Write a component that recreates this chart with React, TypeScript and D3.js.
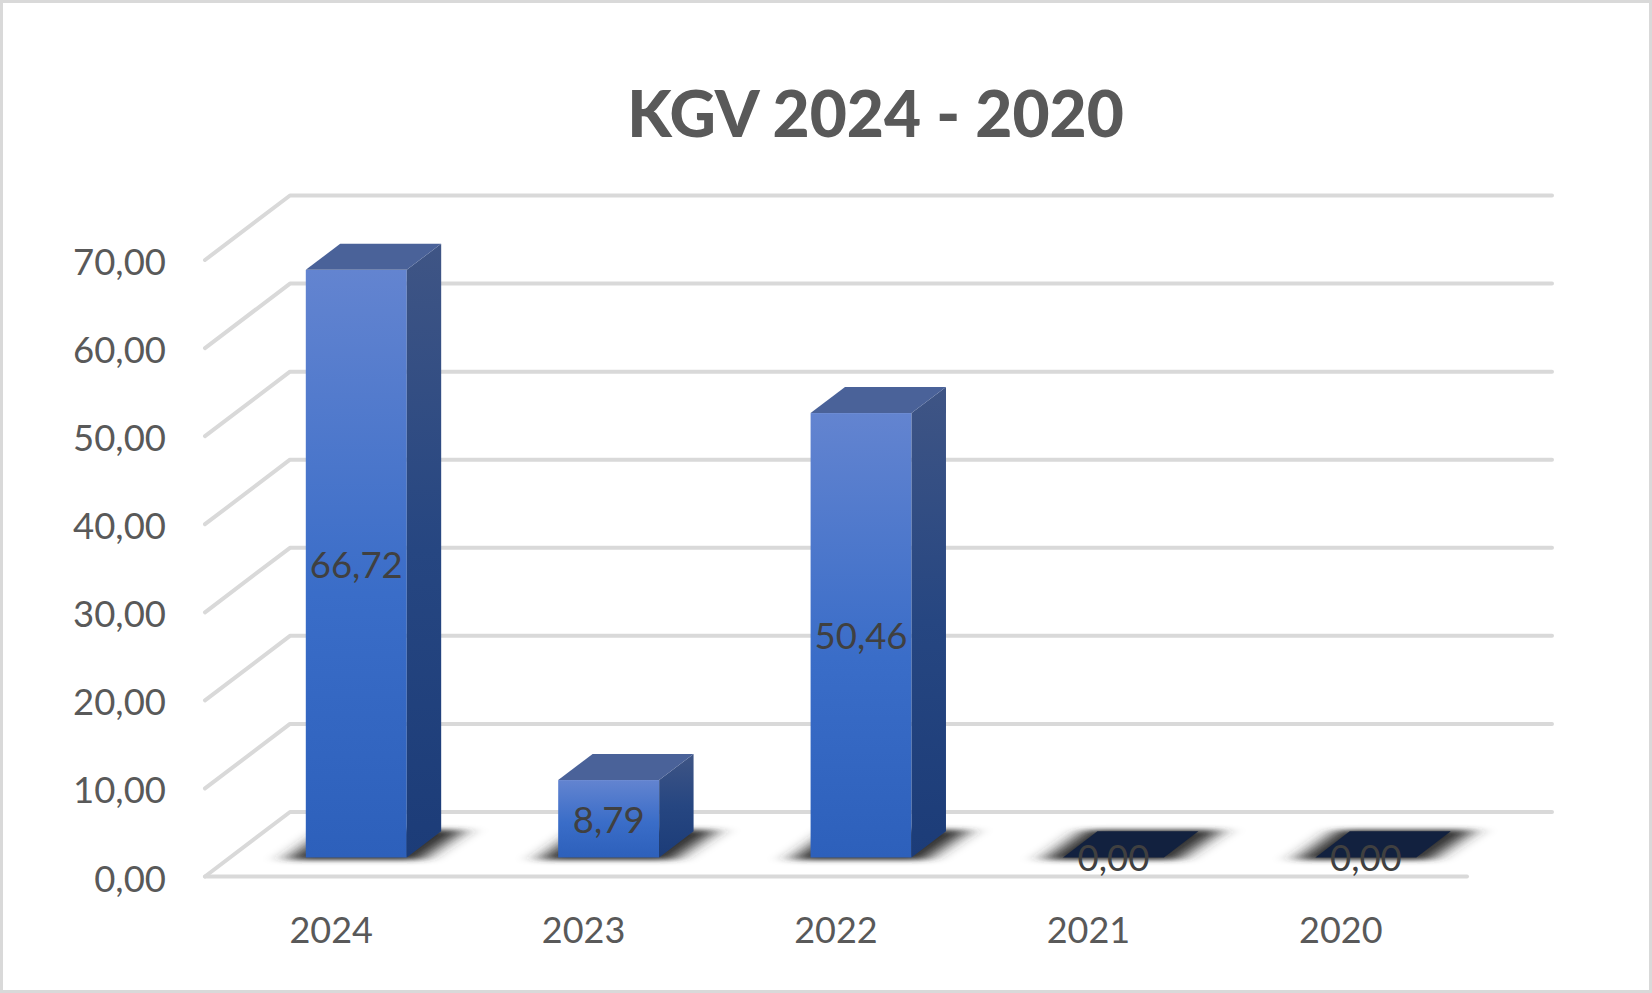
import React from "react";
import * as d3 from "d3";

const categories = ["2024", "2023", "2022", "2021", "2020"];
const values = [66.72, 8.79, 50.46, 0, 0];
const yTicks = [0, 10, 20, 30, 40, 50, 60, 70];
const titleText = "KGV 2024 - 2020";

const W = 1652;
const H = 993;
const FONT = "Lato, 'Open Sans', sans-serif";
const fmt = (v: number) => v.toFixed(2).replace(".", ",");

const frontLeft = 205;
const frontRight = 1467;
const floorY = 876.5;
const backDx = 85;
const backDy = -64.5;
const faceDepth = 0.295;
const rearDepth = 0.7;

const x = d3.scaleBand<string>().domain(categories).range([frontLeft, frontRight]).paddingInner(0.6).paddingOuter(0.3);
const xLabel = d3.scaleBand<string>().domain(categories).range([frontLeft, frontRight]);
const y = d3.scaleLinear().domain([0, 70]).range([0, -616.5]);

const proj = (px: number, v: number, depth: number): [number, number] => [
  px + backDx * depth,
  floorY + y(v) + backDy * depth,
];
const poly = (pts: [number, number][]) => d3.line()(pts)! + "Z";

export default function App() {
  return (
    <svg width={W} height={H} style={{ position: "absolute", left: 0, top: 0, background: "#fff" }}>
      <defs>
        <linearGradient id="front" x1="0" y1="0" x2="0" y2="1">
          <stop offset="0" stopColor="#6384d0" />
          <stop offset="0.55" stopColor="#3a6dc8" />
          <stop offset="1" stopColor="#2d60bb" />
        </linearGradient>
        <linearGradient id="side" x1="0" y1="0" x2="0" y2="1">
          <stop offset="0" stopColor="#3f5585" />
          <stop offset="0.5" stopColor="#264681" />
          <stop offset="1" stopColor="#1c3c78" />
        </linearGradient>
        <filter id="blur" x="-30%" y="-80%" width="160%" height="260%">
          <feGaussianBlur stdDeviation="11 2.5" />
        </filter>
      </defs>
      <rect x={1.5} y={1.5} width={W - 3} height={H - 3} fill="#fff" stroke="#d9d9d9" strokeWidth={3} />
      <text x={875.5} y={112} textAnchor="middle" dominantBaseline="central" fontFamily={FONT} fontWeight={900} fontSize={64} fill="#595959">
        {titleText}
      </text>
      <g fill="none" stroke="#d9d9d9" strokeWidth={4} strokeLinecap="round" strokeLinejoin="round">
        {yTicks.map((t) => {
          const a = proj(frontLeft, t, 0);
          const b = proj(frontLeft, t, 1);
          const c = proj(frontRight, t, 1);
          return <path key={t} d={d3.line()([a, b, c])!} />;
        })}
        <path d={d3.line()([proj(frontLeft, 0, 0), proj(frontRight, 0, 0)])!} />
      </g>
      {yTicks.map((t) => (
        <text key={t} x={166} y={proj(frontLeft, t, 0)[1] + 1} textAnchor="end" dominantBaseline="central" fontFamily={FONT} fontSize={36.5} fill="#595959">
          {fmt(t)}
        </text>
      ))}
      {categories.map((c) => (
        <text key={c} x={xLabel(c)! + xLabel.bandwidth() / 2} y={928.5} textAnchor="middle" dominantBaseline="central" fontFamily={FONT} fontSize={36} fill="#595959">
          {c}
        </text>
      ))}
      {categories.map((c, i) => {
        const l = x(c)!;
        const r = l + x.bandwidth();
        const v = values[i];
        const shadow = poly([
          [proj(l, 0, faceDepth)[0] - 20, proj(l, 0, faceDepth)[1] + 2.5],
          [proj(r, 0, faceDepth)[0] + 14, proj(r, 0, faceDepth)[1] + 2.5],
          [proj(r, 0, rearDepth)[0] + 24, proj(r, 0, rearDepth)[1] - 1.5],
          [proj(l, 0, rearDepth)[0] - 12, proj(l, 0, rearDepth)[1] - 1.5],
        ]);
        const top = poly([proj(l, v, faceDepth), proj(r, v, faceDepth), proj(r, v, rearDepth), proj(l, v, rearDepth)]);
        const side = poly([proj(r, 0, faceDepth), proj(r, 0, rearDepth), proj(r, v, rearDepth), proj(r, v, faceDepth)]);
        const fTop = proj(l, v, faceDepth);
        const fBot = proj(r, 0, faceDepth);
        return (
          <g key={c}>
            <path d={shadow} fill="#2e2e2e" filter="url(#blur)" />
            {v > 0 ? (
              <>
                <rect x={fTop[0]} y={fTop[1]} width={fBot[0] - fTop[0]} height={fBot[1] - fTop[1]} fill="url(#front)" />
                <path d={side} fill="url(#side)" />
                <path d={top} fill="#4a6299" />
              </>
            ) : (
              <path d={top} fill="#12213f" />
            )}
          </g>
        );
      })}
      {categories.map((c, i) => {
        const v = values[i];
        const fTop = proj(x(c)!, v, faceDepth);
        const fBot = proj(x(c)!, 0, faceDepth);
        return (
          <text key={c} x={fTop[0] + x.bandwidth() / 2} y={(fTop[1] + fBot[1]) / 2} textAnchor="middle" dominantBaseline="central" fontFamily={FONT} fontSize={36.5} fill="#404040">
            {fmt(v)}
          </text>
        );
      })}
    </svg>
  );
}
